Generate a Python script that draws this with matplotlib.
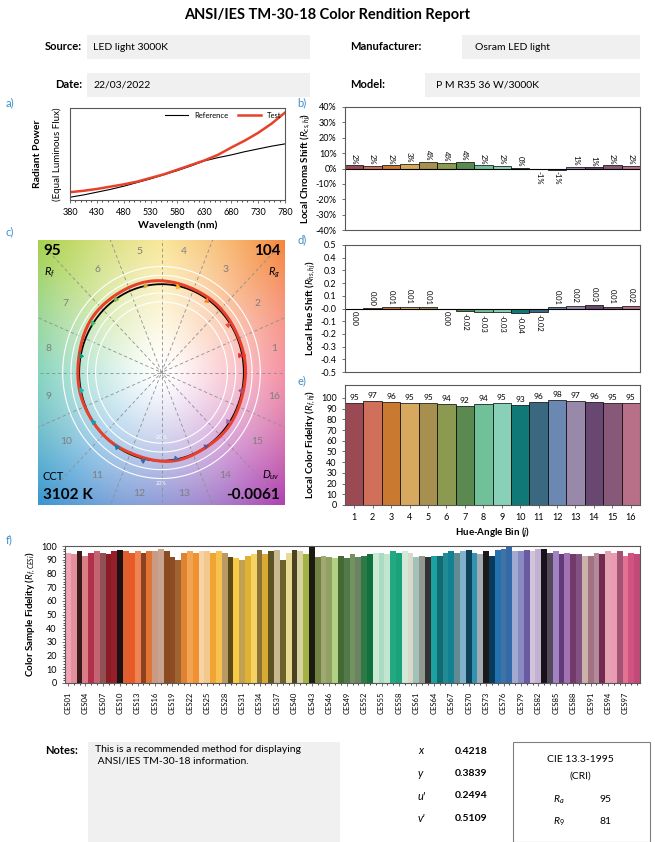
import numpy as np
import matplotlib
matplotlib.use("Agg")
import matplotlib.pyplot as plt
from matplotlib.patches import Rectangle
from matplotlib.ticker import MultipleLocator, FixedLocator

plt.rcParams['font.family'] = ['Lato', 'DejaVu Sans']
plt.rcParams['mathtext.fontset'] = 'custom'
plt.rcParams['mathtext.it'] = 'Lato:italic'
plt.rcParams['mathtext.rm'] = 'Lato'
plt.rcParams['mathtext.bf'] = 'Lato:bold'

# ---- data ----
wavelengths = [380, 405, 430, 455, 480, 505, 530, 555, 580, 605, 630, 655, 680, 705, 730, 755, 780]
spd_test = [0.085, 0.10, 0.12, 0.145, 0.17, 0.20, 0.24, 0.28, 0.33, 0.38, 0.43, 0.49, 0.57, 0.645, 0.73, 0.83, 0.95]
spd_ref = [0.03, 0.055, 0.085, 0.115, 0.15, 0.19, 0.23, 0.275, 0.32, 0.37, 0.425, 0.46, 0.49, 0.525, 0.555, 0.585, 0.61]

bins = list(range(1, 17))
chroma_shift = [2.0, 1.6, 2.0, 2.8, 4.3, 3.9, 4.5, 2.1, 1.6, 0.4, -0.6, -0.9, 1.2, 0.7, 2.0, 1.6]
hue_shift = [-0.002, 0.002, 0.008, 0.014, 0.009, -0.002, -0.018, -0.028, -0.030, -0.038, -0.024, 0.009, 0.022, 0.030, 0.013, 0.022]
local_fidelity = [95, 97, 96, 95, 95, 94, 92, 94, 95, 93, 96, 98, 97, 96, 95, 95]

bar_colors = ['#9b4a53', '#d0705a', '#c97a30', '#d6a95f', '#a68f4f', '#8b9a50', '#5a8a50', '#70c199',
              '#88d1b8', '#117878', '#3b6881', '#6a88b1', '#9888a9', '#684870', '#875878', '#b87089']
hue_colors = ['#e62828', '#e74b4b', '#fb812e', '#ffb529', '#cba946', '#7eb94c', '#41c06d', '#009c7c',
              '#16bcb0', '#00a4bf', '#0085c3', '#3b62aa', '#4568ae', '#6a4e85', '#9d69a1', '#a74f81']
# background wheel anchors, every 45 degrees starting at 0
wheel_colors = ['#f2607a', '#f5893f', '#f7dc6a', '#a9d24f', '#4fc2a2', '#3b98d2', '#5f6ec6', '#b045b2']

ces_values = [95, 94, 96, 93, 95, 96, 95, 94, 96,
              97, 96, 95, 96, 95, 96, 96, 98, 96, 92, 90,
              95, 96, 95, 96, 96, 95, 96, 95, 92, 91,
              90, 93, 94, 97, 94, 96, 97, 90, 95, 97,
              96, 94, 99, 92, 93, 92, 91, 93, 91, 94,
              92, 93, 94, 95, 95, 94, 96, 95, 96, 95,
              92, 93, 92, 93, 93, 95, 96, 95, 96, 97,
              95, 94, 96, 93, 97, 98, 99, 96, 96, 97,
              96, 98, 98, 95, 96, 94, 95, 94, 94, 93,
              93, 95, 94, 96, 95, 96, 93, 95, 94]
ces_colors = ['#f2a3b3', '#e3909c', '#3b1a1c', '#d97d86', '#b2304a', '#c26472', '#8f5153', '#8b1c26', '#941f2a',
              '#1c1212', '#e0612f', '#e85b29', '#ef8453', '#8a4220', '#e27433', '#c99a84', '#c8a38f', '#8a4b22',
              '#8f4c23', '#a06433', '#df8232', '#f2a452', '#f09232', '#f8d3a3', '#f1c98f', '#f0a532', '#f7c152',
              '#b99a62', '#5b491a', '#f8ca43', '#c2a252', '#e0b233', '#f6d163', '#8b7133', '#d9a933', '#5c5222',
              '#c9b992', '#6b6129', '#e8d993', '#4b4222', '#d8d1a2', '#a2b243', '#1b1b12', '#718243', '#a1a972',
              '#92a163', '#b2d283', '#426a32', '#52794a', '#729262', '#6b8263', '#2d7b44', '#12723f', '#cbe9d3',
              '#a9dcc2', '#c2e5cd', '#22a982', '#1aa27a', '#d2e9d9', '#d9d9ca', '#a2c1b9', '#919991', '#323232',
              '#1aa1a1', '#126a72', '#228a92', '#128292', '#628a92', '#82b2ca', '#0c425a', '#3292b2', '#a2aab2',
              '#1a1a1a', '#0a3a5a', '#2272b2', '#4272a2', '#326aaa', '#a2aad2', '#8a8ac2', '#6a5aa2', '#d2c2da',
              '#c2b2d2', '#1a121a', '#524a5a', '#a282c2', '#623a7a', '#a272b2', '#723a6a', '#825282', '#cab2aa',
              '#a27282', '#b28a9a', '#722a52', '#e2a2b2', '#ea9ab2', '#a25272', '#e27292', '#d25282', '#c04a78']
ces_names = ['CES%02d' % i for i in range(1, 100)]

W, H = 655, 842
fig = plt.figure(figsize=(W / 100, H / 100), dpi=100)


def fx(x):
    return x / W


def fy(y):
    return 1 - y / H


def add_axes(x0, y0, x1, y1):
    return fig.add_axes([fx(x0), fy(y1), fx(x1 - x0), (y1 - y0) / H])


def style(ax):
    for s in ax.spines.values():
        s.set_color('#595959')
        s.set_linewidth(0.8)
    ax.tick_params(labelsize=6.5, width=0.6, length=2.5, color='#595959')


def smooth_closed(v, m=400):
    # periodic trigonometric interpolation of 16 samples
    F = np.fft.fft(v)
    n = len(v)
    Fp = np.zeros(m, dtype=complex)
    h = n // 2
    Fp[:h] = F[:h]
    Fp[-h + 1:] = F[-h + 1:]
    Fp[h] = F[h] / 2
    Fp[-h] = F[h] / 2
    return np.real(np.fft.ifft(Fp)) * m / n


label_blue = '#3d8fcc'
gray_box = '#f0f0f0'

# ---- header ----
fig.text(0.5, fy(15), 'ANSI/IES TM-30-18 Color Rendition Report', ha='center', va='center',
         fontsize=10.5, fontweight='bold')
for (lx, ly, label, bx0, bx1, tx, val) in [(82, 47, 'Source:', 87, 310, 93, 'LED light 3000K'),
                                             (82, 85, 'Date:', 87, 310, 93, '22/03/2022')]:
    fig.text(fx(lx), fy(ly), label, ha='right', va='center', fontsize=8, fontweight='bold')
    fig.patches.append(Rectangle((fx(bx0), fy(ly + 12)), fx(bx1 - bx0), 24 / H, transform=fig.transFigure,
                                 facecolor=gray_box, edgecolor='none', zorder=0))
    fig.text(fx(tx), fy(ly), val, ha='left', va='center', fontsize=7.5)
fig.text(fx(350), fy(47), 'Manufacturer:', ha='left', va='center', fontsize=8, fontweight='bold')
fig.patches.append(Rectangle((fx(462), fy(59)), fx(640 - 462), 24 / H, transform=fig.transFigure,
                             facecolor=gray_box, edgecolor='none', zorder=0))
fig.text(fx(475), fy(47), 'Osram LED light', ha='left', va='center', fontsize=7.5)
fig.text(fx(350), fy(85), 'Model:', ha='left', va='center', fontsize=8, fontweight='bold')
fig.patches.append(Rectangle((fx(425), fy(97)), fx(640 - 425), 24 / H, transform=fig.transFigure,
                             facecolor=gray_box, edgecolor='none', zorder=0))
fig.text(fx(436), fy(85), 'P M R35 36 W/3000K', ha='left', va='center', fontsize=7.5)

# ---- a) spectra ----
ax = add_axes(70, 108, 285, 200)
style(ax)
ax.plot(wavelengths, spd_ref, color='black', lw=0.8, label='Reference')
ax.plot(wavelengths, spd_test, color='#e8402a', lw=1.8, label='Test')
ax.set_xlim(380, 780)
ax.set_ylim(0, 1)
ax.set_xticks(range(380, 781, 50))
ax.xaxis.set_minor_locator(MultipleLocator(10))
ax.tick_params(which='minor', length=1.5, width=0.5)
ax.set_yticks([])
ax.set_xlabel('Wavelength (nm)', fontsize=7.5, fontweight='bold', labelpad=2)
ax.set_ylabel('Radiant Power', fontsize=7.5, fontweight='bold')
ax.yaxis.set_label_coords(-0.13, 0.5)
ax.text(-0.06, 0.5, '(Equal Luminous Flux)', transform=ax.transAxes, rotation=90,
        ha='center', va='center', fontsize=7)
ax.legend(loc='upper right', ncol=2, frameon=False, fontsize=5.5, handlelength=3,
          borderaxespad=0.1, columnspacing=1.2)
fig.text(fx(6), fy(103), 'a)', color=label_blue, fontsize=8, va='center')


def fmt_pct(v):
    s = '%d%%' % round(v)
    return '0%' if s == '-0%' else s


def fmt_hue(v):
    s = '%.2f' % v
    return '0.00' if s == '-0.00' else s


# ---- b) chroma shift ----
ax = add_axes(345, 107, 640, 230)
style(ax)
ax.bar(bins, chroma_shift, width=1, color=bar_colors, edgecolor='black', linewidth=0.5)
ax.axhline(0, color='black', lw=0.8)
for b, v in zip(bins, chroma_shift):
    ax.text(b, v + (0.8 if v >= 0 else -0.8), fmt_pct(v), rotation=270, ha='center',
            va='bottom' if v >= 0 else 'top', fontsize=5.5)
ax.set_xlim(0.5, 16.5)
ax.set_ylim(-40, 40)
ax.set_yticks(range(-40, 41, 10))
ax.set_yticklabels(['%d%%' % t for t in range(-40, 41, 10)])
ax.set_xticks([])
ax.set_ylabel('Local Chroma Shift ($R_{cs,hj}$)', fontsize=7, fontweight='bold', labelpad=2)
fig.text(fx(297), fy(103), 'b)', color=label_blue, fontsize=8, va='center')

# ---- c) vector graphic ----
ax = add_axes(38, 240, 285, 505)
n = 500
gx, gy = np.meshgrid(np.linspace(-1.5, 1.5, n), np.linspace(1.5, -1.5, n))
ang = np.degrees(np.arctan2(gy, gx)) % 360
t = (ang / 45.0) % 8
i0 = np.floor(t).astype(int)
fr = (t - i0)[..., None]
wc = np.array([matplotlib.colors.to_rgb(c) for c in wheel_colors])
col = wc[i0] * (1 - fr) + wc[(i0 + 1) % 8] * fr
r = np.hypot(gx, gy)[..., None]
w = np.clip((r - 0.08) / 2.0, 0, 1) ** 1.1
img = (1 - w) + col * w
ax.imshow(img, extent=[-1.5, 1.5, -1.5, 1.5], aspect='auto', interpolation='bilinear')
for k in range(8):
    a = np.radians(22.5 * k)
    ax.plot([-2 * np.cos(a), 2 * np.cos(a)], [-2 * np.sin(a), 2 * np.sin(a)], color='#8f8f8f',
            lw=0.6, ls=(0, (4, 3)))
th = np.linspace(0, 2 * np.pi, 361)
for rr in [0.8, 0.9, 1.1, 1.2]:
    ax.plot(rr * np.cos(th), rr * np.sin(th), color='white', lw=0.8)
ax.text(0, -0.74, '-20%', color='white', fontsize=4, ha='center', va='center')
ax.text(0, -1.26, '20%', color='white', fontsize=4, ha='center', va='center')
for b in bins:
    a = np.radians(22.5 * (b - 0.5))
    ax.text(1.4 * np.cos(a), 1.4 * np.sin(a), str(b), color='#7f7f7f', fontsize=7.5,
            ha='center', va='center')
ax.plot(np.cos(th), np.sin(th), color='black', lw=1.3)
centers = np.radians(22.5 * (np.array(bins) - 0.5))
rad = 1 + np.array(chroma_shift) / 100
tx = rad * np.cos(centers + np.array(hue_shift))
ty = rad * np.sin(centers + np.array(hue_shift))
cx = smooth_closed(tx)
cy = smooth_closed(ty)
ax.plot(np.append(cx, cx[0]), np.append(cy, cy[0]), color='#e8402a', lw=2.2)
for k in range(16):
    ax.annotate('', xy=(tx[k], ty[k]), xytext=(np.cos(centers[k]), np.sin(centers[k])),
                arrowprops=dict(arrowstyle='-|>', color=hue_colors[k], lw=0.8, mutation_scale=7,
                                shrinkA=0, shrinkB=0))
ax.set_xlim(-1.5, 1.5)
ax.set_ylim(-1.5, 1.5)
ax.set_xticks([])
ax.set_yticks([])
for s in ax.spines.values():
    s.set_visible(False)
ax.text(0.02, 0.985, '95', transform=ax.transAxes, fontsize=11, fontweight='bold', ha='left', va='top')
ax.text(0.025, 0.905, '$R_f$', transform=ax.transAxes, fontsize=8, ha='left', va='top')
ax.text(0.98, 0.985, '104', transform=ax.transAxes, fontsize=11, fontweight='bold', ha='right', va='top')
ax.text(0.98, 0.905, '$R_g$', transform=ax.transAxes, fontsize=8, ha='right', va='top')
ax.text(0.02, 0.085, 'CCT', transform=ax.transAxes, fontsize=8, ha='left', va='bottom')
ax.text(0.02, 0.01, '3102 K', transform=ax.transAxes, fontsize=11, fontweight='bold', ha='left', va='bottom')
ax.text(0.98, 0.085, '$D_{uv}$', transform=ax.transAxes, fontsize=8, ha='right', va='bottom')
ax.text(0.98, 0.01, '-0.0061', transform=ax.transAxes, fontsize=11, fontweight='bold', ha='right', va='bottom')
fig.text(fx(6), fy(232), 'c)', color=label_blue, fontsize=8, va='center')

# ---- d) hue shift ----
ax = add_axes(345, 245, 640, 372)
style(ax)
ax.bar(bins, hue_shift, width=1, color=bar_colors, edgecolor='black', linewidth=0.5)
ax.axhline(0, color='black', lw=0.8)
for b, v in zip(bins, hue_shift):
    ax.text(b, v + (0.02 if v >= 0 else -0.02), fmt_hue(v), rotation=270, ha='center',
            va='bottom' if v >= 0 else 'top', fontsize=5.5)
ax.set_xlim(0.5, 16.5)
ax.set_ylim(-0.5, 0.5)
ax.set_yticks(np.round(np.arange(-0.5, 0.51, 0.1), 1))
ax.set_yticklabels(['%.1f' % v for v in np.arange(-0.5, 0.51, 0.1)])
ax.set_xticks([])
ax.set_ylabel('Local Hue Shift ($R_{hs,hj}$)', fontsize=7, fontweight='bold', labelpad=2)
fig.text(fx(297), fy(240), 'd)', color=label_blue, fontsize=8, va='center')

# ---- e) local fidelity ----
ax = add_axes(345, 385, 640, 505)
style(ax)
ax.bar(bins, local_fidelity, width=1, color=bar_colors, edgecolor='black', linewidth=0.5)
for b, v in zip(bins, local_fidelity):
    ax.text(b, v + 2, str(v), ha='center', va='bottom', fontsize=6)
ax.set_xlim(0.5, 16.5)
ax.set_ylim(0, 112)
ax.set_yticks(range(0, 101, 10))
ax.set_xticks(bins)
ax.set_xlabel('Hue-Angle Bin ($j$)', fontsize=7, fontweight='bold', labelpad=2)
ax.set_ylabel('Local Color Fidelity ($R_{f,hj}$)', fontsize=7, fontweight='bold', labelpad=2)
fig.text(fx(297), fy(381), 'e)', color=label_blue, fontsize=8, va='center')

# ---- f) CES fidelity ----
ax = add_axes(65, 546, 640, 683)
style(ax)
ax.bar(range(99), ces_values, width=1, color=ces_colors, edgecolor='none')
ax.set_xlim(-0.5, 98.5)
ax.set_ylim(0, 100)
ax.set_yticks(range(0, 101, 10))
ax.yaxis.set_minor_locator(MultipleLocator(2))
ax.set_xticks(range(0, 99, 3))
ax.set_xticklabels(ces_names[::3], rotation=90, fontsize=5.5)
ax.xaxis.set_minor_locator(FixedLocator(range(99)))
ax.tick_params(which='minor', length=1.5, width=0.5)
ax.set_ylabel('Color Sample Fidelity ($R_{f,CESi}$)', fontsize=7, fontweight='bold', labelpad=2)
fig.text(fx(6), fy(540), 'f)', color=label_blue, fontsize=8, va='center')

# ---- bottom info ----
fig.text(fx(45), fy(751), 'Notes:', fontsize=8, fontweight='bold', va='center')
fig.patches.append(Rectangle((fx(88), fy(842)), fx(340 - 88), 100 / H, transform=fig.transFigure,
                             facecolor=gray_box, edgecolor='none', zorder=0))
fig.text(fx(95), fy(745), 'This is a recommended method for displaying\n ANSI/IES TM-30-18 information.',
         fontsize=7.5, va='top', linespacing=1.3)
chroma_labels = ['x', 'y', "u'", "v'"]
chroma_values = ['0.4218', '0.3839', '0.2494', '0.5109']
for k, (lab, val) in enumerate(zip(chroma_labels, chroma_values)):
    fig.text(fx(418), fy(751 + 22.5 * k), lab, fontsize=8, style='italic', va='center')
    fig.text(fx(455), fy(751 + 22.5 * k), val, fontsize=7.5, fontweight='bold', va='center')
fig.patches.append(Rectangle((fx(513), fy(842)), fx(650 - 513), 100 / H, transform=fig.transFigure,
                             facecolor='none', edgecolor='#808080', lw=0.8))
fig.text(fx(580), fy(760), 'CIE 13.3-1995', fontsize=7.5, ha='center', va='center')
fig.text(fx(580), fy(776), '(CRI)', fontsize=7.5, ha='center', va='center')
fig.text(fx(553), fy(800), '$R_a$', fontsize=7.5, ha='left', va='center')
fig.text(fx(600), fy(800), '95', fontsize=7.5, ha='left', va='center')
fig.text(fx(553), fy(822), '$R_9$', fontsize=7.5, ha='left', va='center')
fig.text(fx(600), fy(822), '81', fontsize=7.5, ha='left', va='center')

fig.savefig('out.png', dpi=100)
